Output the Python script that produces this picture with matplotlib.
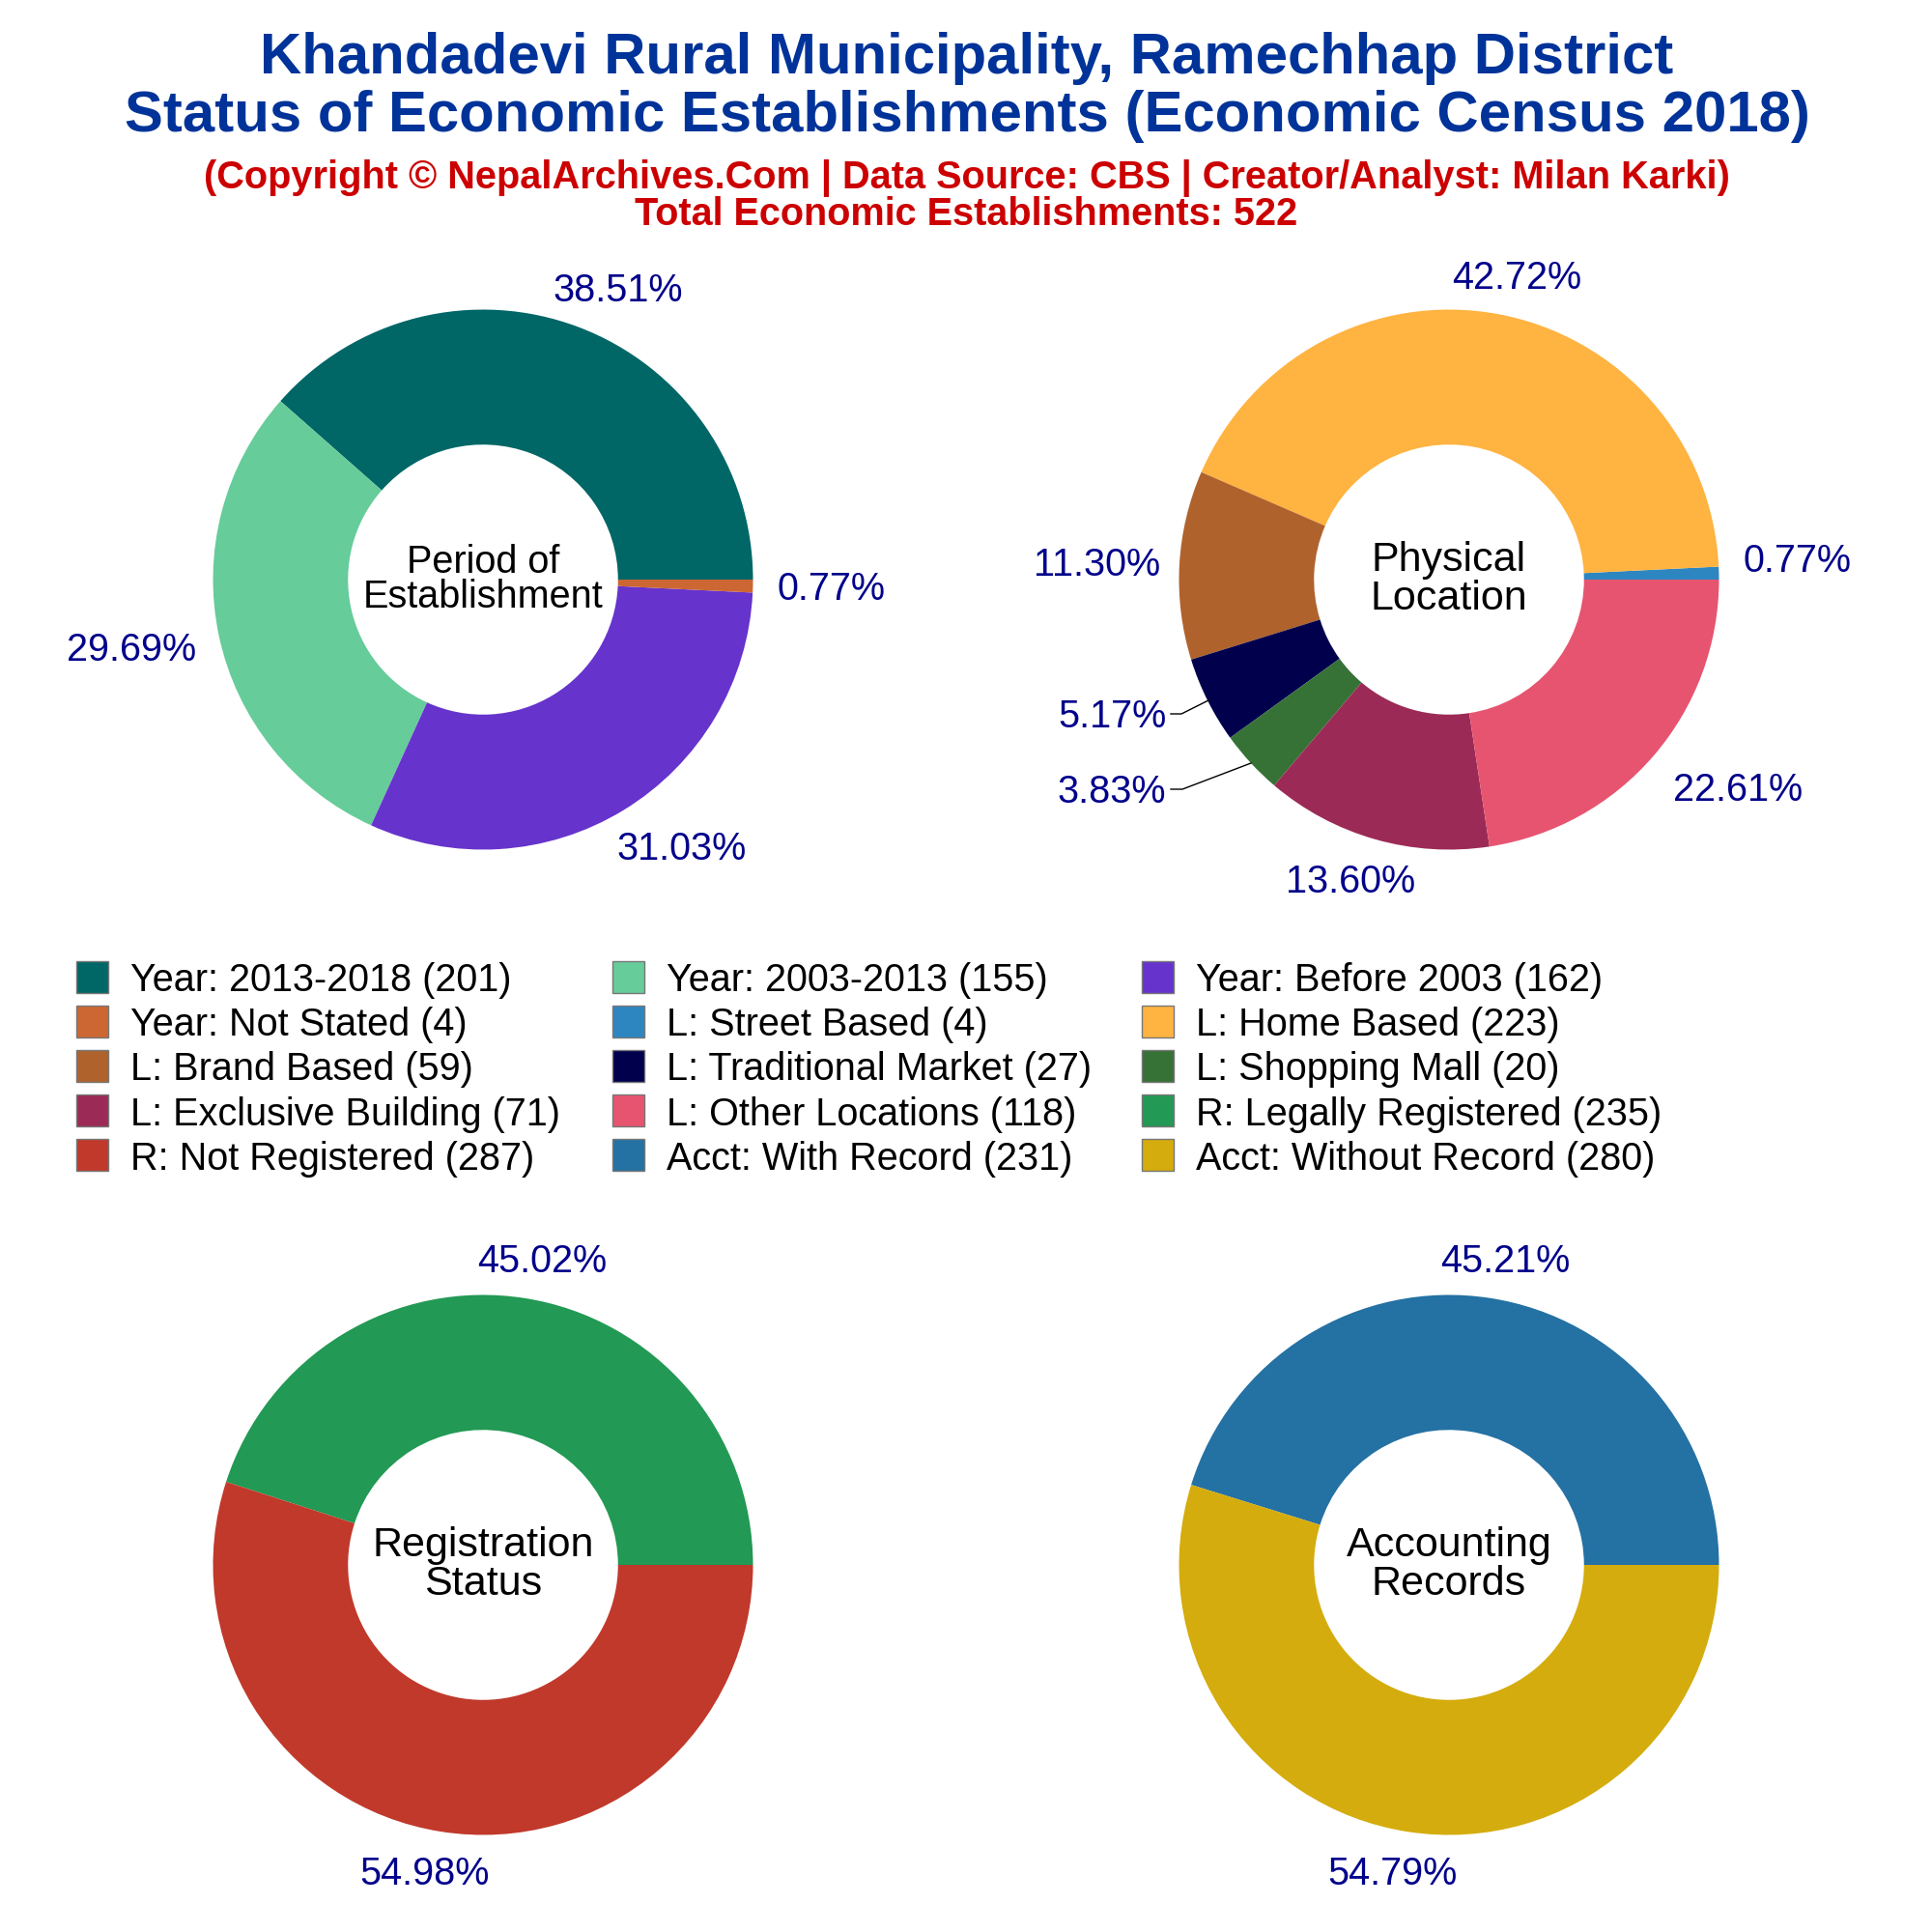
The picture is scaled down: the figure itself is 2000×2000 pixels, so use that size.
import matplotlib
matplotlib.use("Agg")
import matplotlib.pyplot as plt

plt.rcParams['font.family'] = ['Liberation Sans', 'DejaVu Sans']

SIZE = 2000
R = 279.5

year_labels = ["Year: 2013-2018", "Year: 2003-2013", "Year: Before 2003", "Year: Not Stated"]
year_values = [201, 155, 162, 4]
year_colors = ['#006666', '#66CC99', '#6633CC', '#CC6633']

loc_labels = ["L: Street Based", "L: Home Based", "L: Brand Based", "L: Traditional Market",
              "L: Shopping Mall", "L: Exclusive Building", "L: Other Locations"]
loc_values = [4, 223, 59, 27, 20, 71, 118]
loc_colors = ['#2E86C1', '#FFB340', '#B0622D', '#00004D', '#367136', '#9C2A56', '#E75470']

reg_labels = ["R: Legally Registered", "R: Not Registered"]
reg_values = [235, 287]
reg_colors = ['#229954', '#C0392B']

acct_labels = ["Acct: With Record", "Acct: Without Record"]
acct_values = [231, 280]
acct_colors = ['#2471A3', '#D4AC0D']

fig = plt.figure(figsize=(20, 20), dpi=100, facecolor='white')


def px(x, y):
    return x / SIZE, 1 - y / SIZE


def donut(cx, cy, values, colors, center_text, center_size, spacing, label_pos):
    ax = fig.add_axes([(cx - R) / SIZE, 1 - (cy + R) / SIZE, 2 * R / SIZE, 2 * R / SIZE])
    ax.pie(values, colors=colors, radius=1, startangle=0, counterclock=True,
           wedgeprops=dict(width=0.5, linewidth=0))
    ax.set_xlim(-1, 1)
    ax.set_ylim(-1, 1)
    ax.set_aspect('equal')
    ax.axis('off')
    ax.text(0, 0, center_text, ha='center', va='center', fontsize=center_size,
            color='black', linespacing=spacing)
    total = sum(values)
    for v, (lx, ly) in zip(values, label_pos):
        x, y = px(lx, ly)
        fig.text(x, y, f"{v / total * 100:.2f}%", ha='center', va='center',
                 fontsize=28.5, color='#00008B')


donut(500, 600, year_values, year_colors, "Period of\nEstablishment", 28.5, 0.96,
      [(640, 301), (136, 673), (706, 879), (861, 610)])
donut(1500, 600, loc_values, loc_colors, "Physical\nLocation", 31, 1.0,
      [(1861, 581), (1570, 288), (1136, 585), (1151, 742), (1151, 820), (1398, 913), (1799, 818)])
donut(500, 1620, reg_values, reg_colors, "Registration\nStatus", 31, 0.97,
      [(561, 1306), (440, 1940)])
donut(1500, 1620, acct_values, acct_colors, "Accounting\nRecords", 31, 0.97,
      [(1558, 1306), (1441, 1940)])

# leader lines for the two small slices
leaders = [[(1212, 739), (1223, 739), (1251, 725)],
           [(1212, 817), (1224, 817), (1295, 790)]]
for pts in leaders:
    xs, ys = zip(*[px(*p) for p in pts])
    fig.add_artist(plt.Line2D(xs, ys, color='black', lw=1))

fig.text(*px(1001, 76), "Khandadevi Rural Municipality, Ramechhap District", ha='center',
         va='baseline', fontsize=43.1, fontweight='bold', color='#003399')
fig.text(*px(1001, 136), "Status of Economic Establishments (Economic Census 2018)", ha='center',
         va='baseline', fontsize=43.1, fontweight='bold', color='#003399')
fig.text(*px(1001, 195), "(Copyright © NepalArchives.Com | Data Source: CBS | Creator/Analyst: Milan Karki)",
         ha='center', va='baseline', fontsize=28.6, fontweight='bold', color='#CC0000')
fig.text(*px(1000, 233), "Total Economic Establishments: 522", ha='center',
         va='baseline', fontsize=28.5, fontweight='bold', color='#CC0000')

all_labels = year_labels + loc_labels + reg_labels + acct_labels
all_values = year_values + loc_values + reg_values + acct_values
all_colors = year_colors + loc_colors + reg_colors + acct_colors

col_x = [79, 634, 1182]
row_y0 = 1011
row_gap = 46.2
for i, (lab, val, col) in enumerate(zip(all_labels, all_values, all_colors)):
    row, c = divmod(i, 3)
    x0 = col_x[c]
    y0 = row_y0 + row * row_gap
    fig.add_artist(plt.Rectangle(px(x0, y0 + 16.5), 33 / SIZE, 33 / SIZE, facecolor=col,
                                 edgecolor='#777777', linewidth=1, transform=fig.transFigure))
    fig.text(*px(x0 + 56, y0), f"{lab} ({val})", ha='left', va='center_baseline',
             fontsize=28.5, color='black')

plt.savefig("out.png", dpi=100)
plt.close()
